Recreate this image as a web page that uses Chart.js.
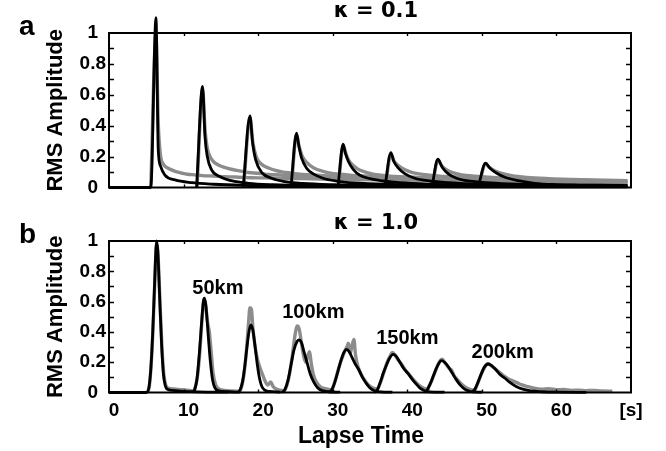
<!DOCTYPE html>
<html><head><meta charset="utf-8">
<script src="https://cdn.jsdelivr.net/npm/chart.js@4.4.1/dist/chart.umd.min.js"></script>
<style>
html,body{margin:0;padding:0;background:#fff;}
#wrap{position:relative;width:666px;height:451px;overflow:hidden;}
.panel{position:absolute;left:0;width:666px;}
#pa{top:0;height:208px;}
#pb{top:208px;height:243px;}
canvas{display:block;}
</style></head><body>
<div id="wrap">
<div class="panel" id="pa"><canvas id="ca" width="666" height="208"></canvas></div>
<div class="panel" id="pb"><canvas id="cb" width="666" height="243"></canvas></div>
</div>
<script>
// ---------- tick labels & texts ----------
const xTicks = [0, 10, 20, 30, 40, 50, 60];
const xUnit = '[s]';
const yTicks = [0, 0.2, 0.4, 0.6, 0.8, 1];
const yMinorTicks = [0.1, 0.2, 0.3, 0.4, 0.5, 0.6, 0.7, 0.8, 0.9];
const panelLetters = ['a', 'b'];
const panelTitles = ['κ = 0.1', 'κ = 1.0'];
const yTitle = 'RMS Amplitude';
const xTitle = 'Lapse Time';
const distanceLabels = ['50km', '100km', '150km', '200km'];
const distanceLabelTimes = [14.6, 27.4, 40.0, 52.8];
const distanceLabelAmps = [0.688, 0.528, 0.354, 0.263];

// ---------- panel a (kappa = 0.1): simulated (black) envelopes [time s, amplitude] ----------
const aSim1 = [[0,0],[5.6,0],[6.3,1.1],[6.6,0.25],[6.9,0.14],[7.5,0.08],[8.85,0.049],[11.1,0.031],[14,0.021],[18,0.014],[24,0.01],[35,0.007],[50,0.005],[69.5,0.004]];
const aSim2 = [[11.75,0],[12.55,0.655],[12.87,0.33],[13.18,0.2],[13.76,0.114],[14.9,0.07],[16.4,0.044],[18.7,0.027],[22,0.018],[28,0.012],[40,0.008],[55,0.006],[69.5,0.006]];
const aSim3 = [[18.0,0],[18.9,0.464],[19.26,0.287],[19.66,0.18],[20.5,0.096],[21.8,0.06],[23.6,0.038],[26,0.026],[30,0.018],[38,0.012],[50,0.009],[69.5,0.008]];
const aSim4 = [[24.4,0],[25.15,0.352],[25.47,0.265],[25.83,0.19],[26.5,0.125],[27.4,0.088],[28.7,0.06],[30.5,0.042],[33,0.03],[37,0.021],[45,0.014],[55,0.011],[69.5,0.009]];
const aSim5 = [[30.7,0],[31.4,0.28],[31.7,0.222],[32.1,0.168],[32.75,0.118],[33.6,0.081],[35.0,0.057],[36.8,0.042],[39,0.031],[43,0.022],[50,0.016],[60,0.012],[69.5,0.011]];
const aSim6 = [[37.0,0],[37.8,0.226],[38.2,0.168],[38.8,0.125],[39.7,0.088],[41.0,0.06],[43.0,0.042],[45.5,0.031],[49,0.023],[55,0.017],[62,0.014],[69.5,0.012]];
const aSim7 = [[43.3,0],[44.1,0.183],[44.7,0.129],[45.5,0.088],[46.6,0.06],[48,0.044],[50,0.033],[53,0.025],[57,0.019],[63,0.015],[69.5,0.013]];
const aSim8 = [[49.5,0],[50.5,0.157],[51.1,0.125],[52.0,0.092],[53.1,0.066],[54.9,0.044],[57.1,0.027],[59.8,0.019],[63,0.016],[66,0.015],[69.5,0.014]];

// ---------- panel a: observed (gray) envelopes ----------
const aObs1 = [[5.6,0],[6.3,0.98],[6.6,0.42],[6.9,0.21],[7.3,0.15],[7.8,0.128],[8.4,0.114],[9.0,0.102],[9.7,0.094],[10.5,0.086],[11.5,0.082],[12.5,0.077],[14,0.074],[15.5,0.07],[17,0.068],[19,0.063],[21,0.062],[24,0.058],[27,0.057],[30,0.053],[34,0.052],[38,0.048],[42,0.047],[46,0.044],[50,0.043],[55,0.04],[60,0.038],[65,0.034],[69.5,0.033]];
const aObs2 = [[11.8,0],[12.55,0.63],[12.9,0.36],[13.2,0.25],[13.5,0.205],[14.0,0.168],[14.65,0.146],[15.5,0.13],[16.4,0.118],[17.5,0.108],[18.7,0.097],[20,0.092],[21.5,0.084],[23,0.081],[25,0.074],[28,0.071],[31,0.066],[35,0.063],[40,0.057],[45,0.054],[50,0.049],[55,0.046],[60,0.041],[65,0.038],[69.5,0.035]];
const aObs3 = [[18.05,0],[18.9,0.45],[19.3,0.29],[19.7,0.205],[20.1,0.168],[20.7,0.142],[21.4,0.126],[22.2,0.112],[23.2,0.101],[24.5,0.093],[26,0.084],[28,0.079],[30,0.073],[33,0.069],[36,0.064],[40,0.061],[45,0.055],[50,0.051],[55,0.046],[60,0.043],[65,0.039],[69.5,0.036]];
const aObs4 = [[24.45,0],[25.15,0.34],[25.5,0.265],[25.9,0.205],[26.5,0.162],[27.4,0.128],[28.7,0.104],[30.1,0.09],[31.5,0.084],[33,0.077],[35,0.073],[38,0.066],[41,0.063],[45,0.057],[50,0.053],[55,0.047],[60,0.044],[65,0.039],[69.5,0.037]];
const aObs5 = [[30.75,0],[31.4,0.27],[31.8,0.215],[32.2,0.172],[32.75,0.142],[33.4,0.119],[34.1,0.104],[35,0.091],[35.8,0.083],[37,0.077],[39,0.07],[42,0.065],[45,0.059],[50,0.054],[55,0.048],[60,0.045],[65,0.04],[69.5,0.038]];
const aObs6 = [[37.05,0],[37.8,0.215],[38.2,0.172],[38.8,0.142],[39.7,0.115],[40.6,0.098],[41.6,0.088],[43,0.08],[45,0.071],[48,0.065],[51,0.059],[55,0.054],[60,0.048],[65,0.044],[69.5,0.04]];
const aObs7 = [[43.35,0],[44.1,0.175],[44.6,0.142],[45.3,0.113],[46.2,0.095],[47.3,0.082],[49,0.073],[52,0.063],[55,0.058],[60,0.051],[65,0.046],[69.5,0.042]];
const aObs8 = [[49.55,0],[50.5,0.15],[51,0.13],[51.8,0.106],[52.8,0.089],[54,0.076],[56,0.065],[59,0.057],[62,0.052],[66,0.047],[69.5,0.044]];

// ---------- panel b (kappa = 1.0): simulated (black) envelopes ----------
const bSim1 = [[0,0],[5.0,0],[5.3,0.02],[5.6,0.15],[5.85,0.38],[6.1,0.7],[6.3,0.95],[6.4,1.0],[6.55,0.93],[6.8,0.62],[7.05,0.32],[7.3,0.12],[7.55,0.045],[7.8,0.022],[8.5,0.014],[10,0.008],[12,0.004],[16,0.002]];
const bSim2 = [[11.2,0],[11.5,0.02],[11.8,0.09],[12.1,0.25],[12.4,0.45],[12.65,0.6],[12.8,0.622],[13.0,0.57],[13.3,0.38],[13.6,0.2],[13.9,0.08],[14.2,0.03],[14.6,0.012],[16,0.005],[17.5,0.002]];
const bSim3 = [[17.3,0],[17.6,0.02],[17.9,0.07],[18.2,0.17],[18.5,0.3],[18.8,0.41],[19.03,0.446],[19.3,0.41],[19.6,0.3],[19.9,0.18],[20.2,0.09],[20.5,0.04],[20.9,0.015],[21.5,0.007],[23,0.003]];
const bSim4 = [[23.2,0],[23.6,0.02],[24.0,0.08],[24.4,0.18],[24.8,0.28],[25.2,0.335],[25.47,0.347],[25.8,0.33],[26.2,0.26],[26.6,0.19],[27.0,0.12],[27.5,0.065],[28.0,0.03],[28.6,0.012],[29.5,0.005],[31,0.002]];
const bSim5 = [[29.5,0],[29.9,0.02],[30.3,0.07],[30.7,0.14],[31.1,0.21],[31.5,0.265],[31.86,0.285],[32.2,0.27],[32.6,0.23],[33.0,0.19],[33.5,0.15],[34.0,0.1],[34.5,0.06],[35.0,0.03],[35.6,0.012],[36.5,0.004],[38,0.002]];
const bSim6 = [[35.6,0],[36.0,0.02],[36.4,0.07],[36.8,0.13],[37.2,0.18],[37.6,0.225],[38.1,0.252],[38.5,0.24],[39.0,0.2],[39.5,0.16],[40.1,0.126],[40.7,0.085],[41.3,0.05],[41.8,0.025],[42.4,0.01],[43,0.004],[45,0.002]];
const bSim7 = [[42.3,0],[42.7,0.02],[43.1,0.06],[43.5,0.11],[43.9,0.16],[44.3,0.198],[44.6,0.21],[45.0,0.2],[45.5,0.17],[46.0,0.13],[46.5,0.09],[47.0,0.055],[47.5,0.03],[48.0,0.014],[48.5,0.006],[50,0.002]];
const bSim8 = [[48.7,0],[49.1,0.025],[49.5,0.07],[49.9,0.12],[50.3,0.165],[50.85,0.188],[51.3,0.178],[51.8,0.155],[52.4,0.12],[53.1,0.094],[53.8,0.065],[54.6,0.04],[55.5,0.022],[56.6,0.01],[58,0.005],[60,0.002],[64,0.001]];

// ---------- panel b: observed (gray) envelopes ----------
const bObs1 = [[5.1,0],[5.4,0.04],[5.65,0.18],[5.9,0.42],[6.15,0.74],[6.35,0.96],[6.45,0.97],[6.6,0.88],[6.85,0.58],[7.1,0.3],[7.35,0.12],[7.6,0.05],[7.9,0.03],[8.5,0.024],[9.2,0.02],[10,0.018],[10.8,0.013],[11.5,0.01]];
const bObs2 = [[11.3,0],[11.6,0.04],[11.9,0.12],[12.2,0.28],[12.5,0.5],[12.75,0.61],[12.9,0.6],[13.2,0.47],[13.45,0.4],[13.7,0.27],[13.95,0.13],[14.3,0.05],[14.8,0.022],[15.5,0.014],[16.5,0.01],[17.4,0.008]];
const bObs3 = [[17.5,0],[17.8,0.04],[18.1,0.12],[18.4,0.26],[18.7,0.45],[18.9,0.56],[19.1,0.55],[19.3,0.42],[19.6,0.3],[19.9,0.22],[20.2,0.17],[20.5,0.13],[20.9,0.08],[21.3,0.05],[21.7,0.07],[22.0,0.04],[22.6,0.02],[23.5,0.012]];
const bObs4 = [[23.4,0],[23.8,0.04],[24.2,0.12],[24.6,0.25],[24.95,0.38],[25.25,0.44],[25.5,0.42],[25.8,0.33],[26.1,0.24],[26.4,0.2],[26.7,0.25],[26.9,0.27],[27.1,0.2],[27.4,0.12],[27.8,0.07],[28.3,0.04],[29,0.025],[30,0.015]];
const bObs5 = [[29.6,0],[30.0,0.03],[30.4,0.09],[30.8,0.16],[31.2,0.22],[31.6,0.27],[31.9,0.3],[32.1,0.325],[32.35,0.26],[32.55,0.3],[32.84,0.35],[33.05,0.25],[33.4,0.17],[33.8,0.12],[34.3,0.08],[34.8,0.05],[35.4,0.03],[36.2,0.018]];
const bObs6 = [[35.7,0],[36.1,0.03],[36.5,0.08],[36.9,0.14],[37.3,0.2],[37.7,0.24],[38.0,0.265],[38.3,0.25],[38.7,0.22],[39.2,0.19],[39.7,0.15],[40.3,0.115],[40.9,0.08],[41.5,0.05],[42.2,0.028],[43,0.015]];
const bObs7 = [[42.4,0],[42.8,0.03],[43.2,0.07],[43.6,0.12],[44.0,0.17],[44.4,0.21],[44.7,0.22],[45.0,0.2],[45.3,0.18],[45.6,0.16],[45.9,0.15],[46.3,0.11],[46.8,0.08],[47.3,0.055],[47.8,0.035],[48.4,0.02],[49.2,0.012]];
const bObs8 = [[48.8,0],[49.2,0.03],[49.6,0.08],[50.0,0.13],[50.4,0.17],[50.8,0.19],[51.2,0.18],[51.7,0.16],[52.2,0.14],[52.8,0.115],[53.4,0.095],[54.0,0.08],[54.7,0.065],[55.4,0.05],[56.2,0.038],[57.0,0.028],[58,0.022],[59,0.025],[60,0.018],[61,0.02],[62,0.014],[63,0.016],[64,0.012],[65,0.014],[66,0.01],[67.5,0.008]];

const panelASim = [aSim1, aSim2, aSim3, aSim4, aSim5, aSim6, aSim7, aSim8];
const panelAObs = [aObs1, aObs2, aObs3, aObs4, aObs5, aObs6, aObs7, aObs8];
const panelBSim = [bSim1, bSim2, bSim3, bSim4, bSim5, bSim6, bSim7, bSim8];
const panelBObs = [bObs1, bObs2, bObs3, bObs4, bObs5, bObs6, bObs7, bObs8];

// ---------- styling ----------
const SANS = "'Liberation Sans', Arial, Helvetica, sans-serif";
const DEJAVU = "'DejaVu Sans', 'Liberation Sans', sans-serif";
const BLACK = '#000000';
const GRAY = '#8c8c8c';

function toXY(arr) { return arr.map(p => ({ x: p[0], y: p[1] })); }

function buildDatasets(sims, obs) {
  const ds = [];
  sims.forEach(s => ds.push({
    data: toXY(s), borderColor: BLACK, borderWidth: 2.8, order: 0,
    clip: false, cubicInterpolationMode: 'monotone', pointRadius: 0, fill: false
  }));
  obs.forEach(s => ds.push({
    data: toXY(s), borderColor: GRAY, borderWidth: 3.4, order: 1,
    cubicInterpolationMode: 'monotone', pointRadius: 0, fill: false
  }));
  return ds;
}

const decor = {
  id: 'decor',
  afterDraw(chart) {
    const o = chart.options.plugins.decor;
    const { ctx, chartArea: ca, scales: { x, y } } = chart;
    ctx.save();
    // frame
    ctx.strokeStyle = BLACK;
    ctx.lineWidth = 2;
    ctx.strokeRect(ca.left, ca.top, ca.right - ca.left, ca.bottom - ca.top);
    // inner ticks
    ctx.lineWidth = 1.4;
    ctx.beginPath();
    yMinorTicks.forEach(v => {
      const py = Math.round(y.getPixelForValue(v)) + 0.5;
      ctx.moveTo(ca.left, py); ctx.lineTo(ca.left + 5, py);
      ctx.moveTo(ca.right, py); ctx.lineTo(ca.right - 5, py);
    });
    xTicks.slice(1).forEach(t => {
      const px = Math.round(x.getPixelForValue(t)) + 0.5;
      ctx.moveTo(px, ca.top); ctx.lineTo(px, ca.top + 3);
      ctx.moveTo(px, ca.bottom); ctx.lineTo(px, ca.bottom - 3);
    });
    ctx.stroke();
    ctx.fillStyle = BLACK;
    // panel letter
    ctx.font = 'bold 28px ' + SANS;
    ctx.textAlign = 'left';
    ctx.textBaseline = 'alphabetic';
    ctx.fillText(o.letter, 19, 35);
    // panel title
    ctx.font = 'bold 21px ' + DEJAVU;
    ctx.textAlign = 'center';
    ctx.textBaseline = 'middle';
    ctx.fillText(o.title, (ca.left + ca.right) / 2 + 6, o.titleY);
    if (o.bottom) {
      // distance labels
      ctx.font = 'bold 20px ' + SANS;
      distanceLabels.forEach((s, i) => {
        ctx.fillText(s, x.getPixelForValue(distanceLabelTimes[i]), y.getPixelForValue(distanceLabelAmps[i]));
      });
      // unit
      ctx.font = 'bold 19px ' + SANS;
      ctx.fillText(xUnit, x.getPixelForValue(70), ca.bottom + 18);
      // x title
      ctx.font = 'bold 23px ' + SANS;
      ctx.fillText(xTitle, 361, ca.bottom + 44);
    }
    ctx.restore();
  }
};

function makeChart(canvasId, sims, obs, bottom, letter, title, titleY) {
  const tickFont = { family: SANS, size: 19, weight: 'bold' };
  return new Chart(document.getElementById(canvasId), {
    type: 'line',
    data: { datasets: buildDatasets(sims, obs) },
    options: {
      responsive: false,
      animation: false,
      devicePixelRatio: 1,
      events: [],
      layout: { padding: { top: 33, right: 35, bottom: bottom ? 0 : 20.5, left: 0 } },
      plugins: {
        legend: { display: false },
        tooltip: { enabled: false },
        title: { display: false },
        decor: { letter, title, titleY, bottom }
      },
      scales: {
        x: {
          type: 'linear', min: 0, max: 70,
          display: bottom,
          afterBuildTicks: s => { s.ticks = xTicks.map(v => ({ value: v })); },
          afterFit: s => { s.height = bottom ? 58.5 : 0; },
          grid: { display: false, drawTicks: false },
          border: { display: false },
          ticks: { font: tickFont, color: BLACK, padding: 7, labelOffset: 5, maxRotation: 0, autoSkip: false,
                   callback: v => String(v) }
        },
        y: {
          min: 0, max: 1,
          afterBuildTicks: s => { s.ticks = yTicks.map(v => ({ value: v })); },
          afterFit: s => { s.width = 109; },
          grid: { display: false, drawTicks: false },
          border: { display: false },
          ticks: { font: tickFont, color: BLACK, padding: 3, crossAlign: 'center', autoSkip: false,
                   callback: v => String(v) },
          title: { display: true, text: yTitle, color: BLACK,
                   font: { family: SANS, size: 22, weight: 'bold' }, padding: { top: 43, bottom: 0 } }
        }
      }
    },
    plugins: [decor]
  });
}

makeChart('ca', panelASim, panelAObs, false, panelLetters[0], panelTitles[0], 12);
makeChart('cb', panelBSim, panelBObs, true, panelLetters[1], panelTitles[1], 16);
</script>
</body></html>
